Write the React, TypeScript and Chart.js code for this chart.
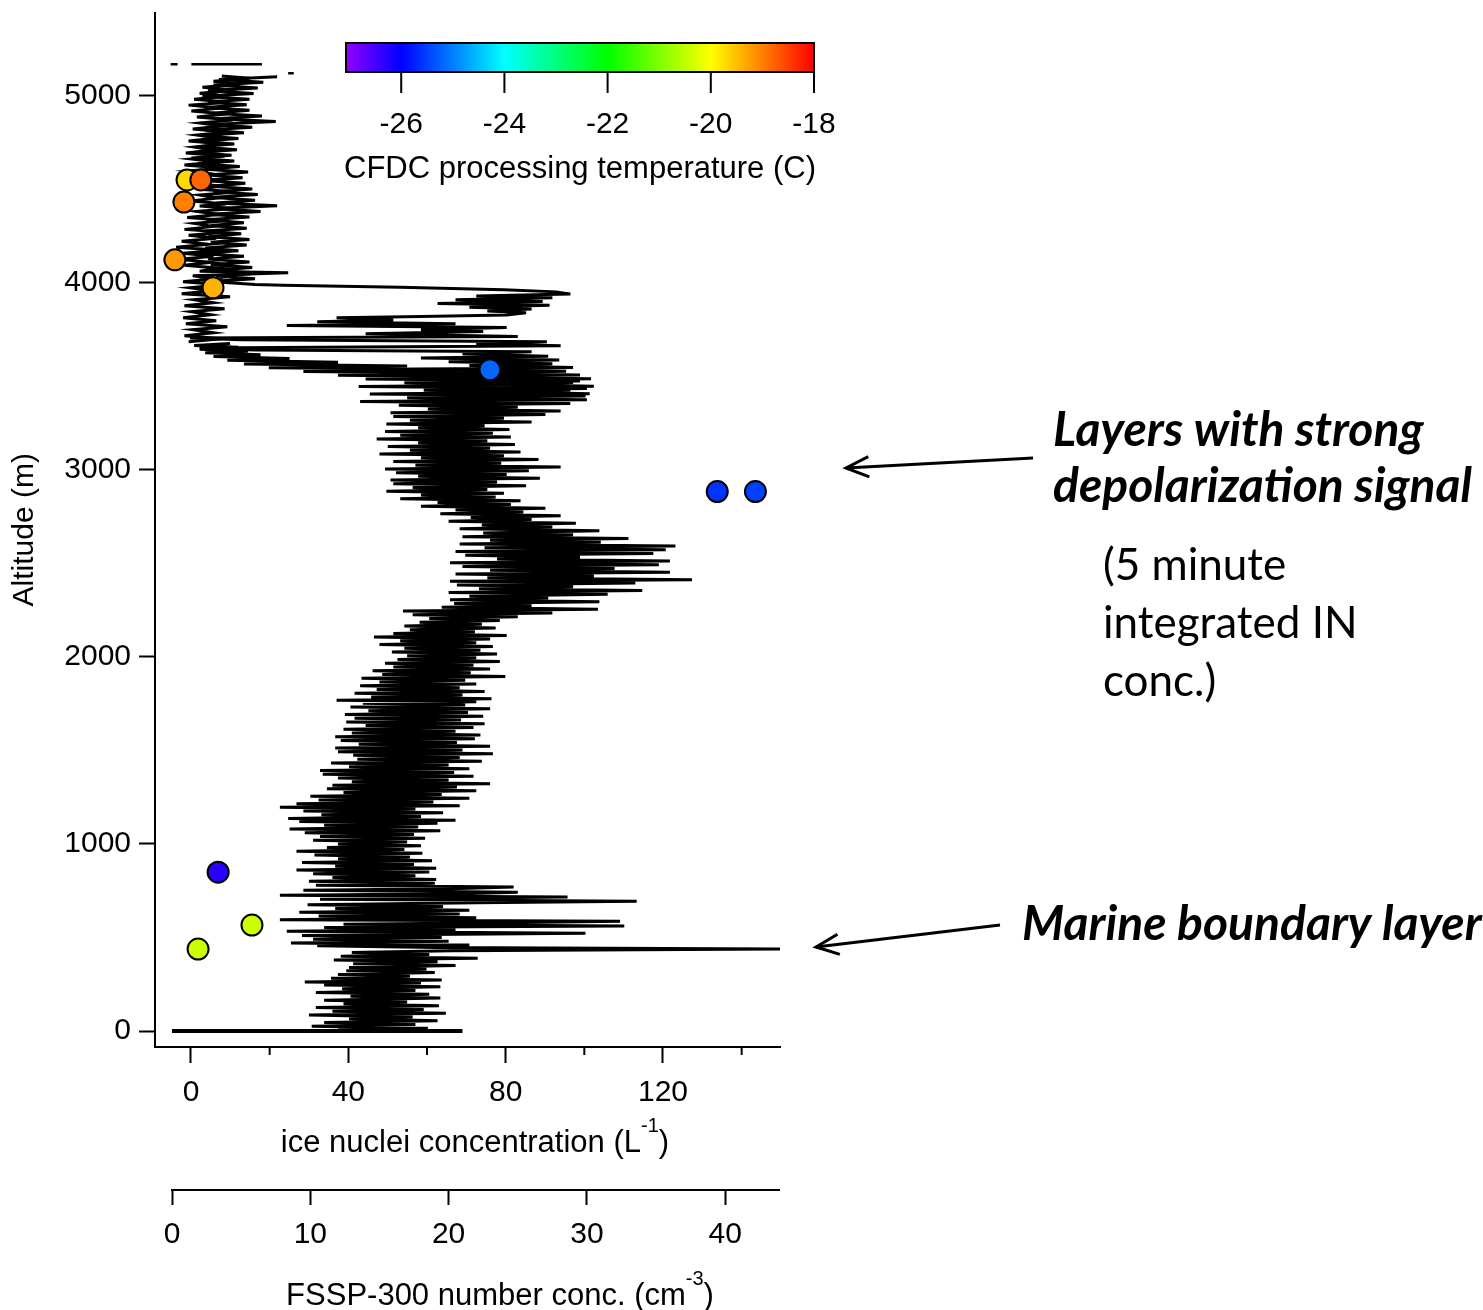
import React, { useEffect, useRef } from "react";
import { Chart, registerables } from "chart.js";

Chart.register(...registerables);

const FONT = '"Liberation Sans", Arial, Helvetica, sans-serif';
const NOTE_FONT = 'Lato, "Open Sans", sans-serif';

// ---- axis ticks ----
const altitudeTicks = [0, 1000, 2000, 3000, 4000, 5000];
const inTicks = [0, 20, 40, 60, 80, 100, 120, 140];
const inLabelledTicks = [0, 40, 80, 120];
const fsspTicks = [0, 10, 20, 30, 40];

// ---- colour scale (CFDC processing temperature, C) ----
const colorbarTicks = [-26, -24, -22, -20, -18];
const colorbarRange = [-27.07, -18];
const cmapTemps = [-27.07, -26, -24, -22, -20, -18];
const cmapColors = ["#9400ff", "#0000ff", "#00ffff", "#00ff00", "#ffff00", "#ff0000"];

// ---- ice nuclei (5 minute integrated) ----
const inConc = [-1.0, 2.5, -1.8, -4.1, 5.6, 76.0, 133.8, 143.5, 6.9, 15.5, 1.8];
const inAlt = [4548, 4548, 4430, 4121, 3972, 3534, 2883, 2883, 849, 566, 438];
const inTemp = [-19.7, -18.8, -19.0, -19.2, -19.4, -25.2, -25.6, -25.5, -26.3, -20.4, -20.4];

// ---- FSSP-300 number concentration profile ----
const groundAlt = [0, 0];
const groundConc = [0, 21.0];

const ascentAlt = [
  5, 15, 25, 35, 45, 55, 65, 75, 85, 95,
  105, 115, 125, 135, 145, 155, 165, 176, 186, 196,
  206, 216, 226, 236, 246, 256, 262, 272, 282, 292,
  302, 312, 322, 332, 340, 350, 360, 370, 379, 389,
  399, 409, 419, 429, 438, 446,
  455, 460, 470, 480, 490, 500, 510, 523, 533, 543,
  553, 561, 571, 579, 587, 595, 605, 615, 625, 635,
  645, 655, 665, 675, 685, 694, 704, 716, 726, 734,
  742, 752, 760, 769, 779, 789,
  800, 810, 820, 830, 840, 850, 860, 870, 880, 890,
  900, 910, 920, 930, 940, 950, 960, 970, 980, 990,
  1000, 1010, 1020, 1030, 1040, 1050, 1060, 1070, 1080, 1090,
  1100, 1110, 1120, 1126, 1136, 1146, 1156, 1166, 1176, 1186,
  1196, 1204, 1214, 1224, 1234, 1244, 1254, 1264, 1274, 1284,
  1294, 1304, 1313, 1322, 1332, 1342, 1352, 1362, 1372, 1382,
  1392, 1402, 1412, 1422, 1432, 1442, 1452, 1462, 1473, 1482,
  1492, 1502, 1512, 1522, 1532, 1542, 1552, 1562, 1572, 1582,
  1592, 1602, 1612, 1622, 1632, 1642, 1652, 1662, 1672, 1682,
  1692, 1702, 1712, 1722, 1732, 1742, 1752, 1760, 1767, 1775,
  1785, 1795, 1805, 1815, 1825, 1835, 1845, 1855, 1865, 1875,
  1885, 1895, 1905, 1915, 1925, 1935, 1945, 1955, 1965, 1975,
  1985, 1995, 2005, 2015, 2025, 2035, 2045, 2055, 2065, 2075,
  2085, 2095, 2105, 2114, 2124, 2134, 2144, 2154, 2164, 2174,
  2184, 2194, 2204, 2214, 2224, 2234, 2244, 2254, 2264, 2274,
  2284, 2294, 2304, 2314, 2324, 2334, 2344, 2354, 2364, 2374,
  2384, 2394, 2404, 2412, 2422, 2432, 2442, 2452, 2462, 2472,
  2482, 2492, 2502, 2512, 2522, 2532, 2542, 2552, 2562, 2572,
  2582, 2592, 2602, 2612, 2622, 2632, 2642, 2652, 2662, 2674,
  2684, 2694, 2704, 2714, 2724, 2734, 2744, 2754, 2764, 2774,
  2784, 2794, 2804, 2814, 2824, 2834, 2844, 2854, 2864, 2874,
  2884, 2894, 2904, 2914, 2924, 2934, 2944, 2954, 2964, 2974,
  2984, 2994, 3004, 3014, 3024, 3034, 3044, 3054, 3064, 3074,
  3084, 3094, 3104, 3114, 3124, 3134, 3144, 3154, 3164, 3174,
  3184, 3194, 3204, 3214, 3224, 3234, 3244, 3254, 3264, 3274,
  3284, 3294, 3304, 3314, 3324, 3334, 3344, 3354, 3364, 3374,
  3384, 3394, 3404, 3414, 3424, 3434, 3444, 3454, 3464, 3474,
  3484, 3494, 3504, 3514, 3524, 3534, 3544, 3554, 3564, 3574,
  3584, 3594, 3604, 3614, 3624, 3634, 3644, 3654, 3664, 3674,
];
const ascentConc = [
  12.0, 18.5, 10.1, 17.6, 11.0, 19.2, 12.8, 17.4, 9.9, 19.8,
  11.6, 18.2, 10.4, 19.3, 12.4, 17.0, 11.0, 19.4, 12.9, 18.6,
  10.4, 17.6, 12.3, 19.4, 11.0, 18.0, 9.6, 19.5, 11.5, 17.2,
  12.0, 19.0, 12.6, 18.4, 12.8, 20.5, 13.1, 19.2, 11.7, 22.1,
  12.2, 18.6, 13.0, 20.2, 44.2, 19.0,
  10.5, 21.5, 8.6, 20.0, 10.2, 19.5, 9.4, 29.9, 8.3, 20.5,
  11.0, 32.7, 12.4, 24.0, 32.4, 7.8, 22.0, 10.6, 20.8, 9.2,
  21.5, 11.8, 19.6, 9.8, 22.0, 33.6, 10.7, 28.6, 7.8, 21.0,
  25.0, 9.5, 20.2, 24.7, 10.4, 19.0,
  9.9, 19.1, 11.6, 17.6, 10.2, 18.6, 9.0, 19.1, 11.8, 17.5,
  9.4, 18.8, 12.0, 17.2, 10.3, 18.1, 9.0, 16.8, 11.2, 18.0,
  12.0, 17.0, 10.2, 18.3, 10.7, 17.5, 9.6, 19.4, 8.5, 17.8,
  11.0, 19.2, 9.2, 20.5, 8.4, 18.0, 10.8, 19.6, 9.5, 17.6,
  7.8, 20.8, 9.0, 18.9, 10.6, 21.5, 10.0, 19.5, 12.4, 22.0,
  11.2, 20.6, 11.6, 23.0, 13.0, 20.0, 12.0, 21.8, 10.9, 20.4,
  10.7, 21.5, 12.8, 20.0, 11.5, 22.4, 13.4, 20.8, 13.1, 23.2,
  12.0, 21.0, 11.8, 23.0, 13.5, 20.6, 12.2, 21.9, 11.8, 22.3,
  13.0, 20.5, 12.4, 21.8, 14.0, 22.6, 12.6, 20.9, 13.2, 22.5,
  12.5, 21.4, 14.2, 23.0, 12.9, 21.2, 13.8, 22.0, 11.9, 23.1,
  14.4, 21.0, 13.2, 22.6, 14.8, 20.8, 13.6, 22.0, 15.0, 21.2,
  13.7, 24.1, 15.2, 21.6, 14.5, 23.0, 16.0, 21.8, 15.4, 23.7,
  16.3, 22.0, 17.0, 23.5, 15.9, 22.3, 16.8, 23.2, 15.0, 22.0,
  16.5, 23.0, 14.6, 24.2, 16.0, 21.9, 17.2, 23.4, 16.8, 22.4,
  17.9, 23.7, 18.6, 25.0, 17.4, 27.5, 16.7, 30.8, 19.5, 26.0,
  20.4, 30.9, 20.1, 27.2, 21.5, 31.5, 20.0, 34.0, 22.2, 29.0,
  20.6, 33.5, 20.1, 37.6, 22.8, 30.5, 20.5, 36.0, 23.0, 32.0,
  21.0, 35.2, 20.1, 36.0, 23.5, 29.5, 21.2, 34.8, 20.5, 35.7,
  22.6, 36.4, 20.8, 31.0, 23.0, 33.0, 21.0, 29.0, 22.5, 30.9,
  20.8, 27.5, 22.4, 29.2, 20.0, 26.0, 21.6, 28.1, 19.4, 25.4,
  20.5, 27.0, 18.0, 24.5, 19.2, 25.2, 16.5, 23.4, 18.0, 24.0,
  15.5, 22.8, 17.4, 25.6, 16.0, 23.5, 15.8, 26.6, 17.8, 24.2,
  16.2, 25.8, 15.4, 28.1, 17.6, 23.8, 16.0, 26.5, 18.0, 24.0,
  15.0, 25.2, 17.2, 23.0, 15.6, 24.8, 17.8, 22.8, 14.8, 24.5,
  16.5, 23.2, 15.4, 24.4, 17.8, 22.6, 15.5, 26.0, 17.2, 24.0,
  16.0, 27.0, 15.8, 28.1, 18.5, 25.0, 16.4, 28.8, 13.6, 30.0,
  17.0, 29.9, 14.3, 26.5, 18.2, 30.0, 13.5, 28.0, 16.8, 29.5,
  14.0, 27.0, 12.0, 25.5, 9.5, 22.0, 7.0, 17.0, 5.2, 12.0,
  4.0, 8.5, 3.0, 6.4, 2.4, 5.5, 2.0, 4.8, 1.6, 4.2,
];

const upperAlt = [
  3684, 3700, 3716, 3732, 3748, 3764, 3780, 3796, 3812, 3828,
  3844, 3860, 3876, 3892, 3908, 3924, 3940, 3956, 3972, 3988,
  4004, 4020, 4036, 4052, 4060, 4076, 4092, 4108, 4124, 4140,
  4156, 4172, 4188, 4204, 4220, 4236, 4252, 4268, 4284, 4300,
  4316, 4332, 4348, 4364, 4380, 4396, 4409, 4420, 4436, 4452,
  4468, 4484, 4500, 4516, 4532, 4548, 4564, 4580, 4596, 4612,
  4628, 4644, 4660, 4676, 4692, 4708, 4724, 4740, 4756, 4772,
  4788, 4804, 4820, 4836, 4852, 4868, 4884, 4900, 4916, 4932,
  4948, 4964, 4980, 4996, 5012, 5028, 5044, 5060, 5076, 5092,
  5104,
];
const upperConc = [
  1.2, 3.6, 0.9, 3.0, 1.5, 4.0, 1.0, 3.2, 0.8, 2.8,
  1.4, 3.8, 0.9, 3.0, 1.6, 4.2, 0.7, 2.9, 1.3, 3.6,
  0.8, 3.1, 1.5, 8.4, 2.0, 3.4, 0.9, 2.8, 0.5, 3.0,
  0.8, 3.5, 0.3, 2.6, 0.7, 3.2, 1.2, 3.8, 0.9, 3.0,
  1.6, 4.0, 1.1, 3.4, 1.8, 4.4, 2.0, 3.9, 1.4, 3.3,
  2.0, 4.6, 1.8, 3.6, 1.0, 3.4, 0.8, 2.9, 1.2, 3.6,
  0.9, 3.2, 1.4, 3.8, 1.0, 3.0, 1.6, 3.7, 1.2, 3.3,
  1.8, 4.0, 1.5, 3.6, 2.0, 4.4, 1.8, 3.9, 1.4, 3.5,
  1.2, 4.2, 1.6, 4.0, 2.0, 4.6, 2.2, 4.9, 3.0, 5.6,
  3.6,
];

const descentAlt = [
  5100, 5085, 5070, 5055, 5040, 5025, 5010, 4995, 4980, 4965,
  4950, 4935, 4920, 4905, 4890, 4875, 4860, 4845, 4830, 4815,
  4800, 4785, 4770, 4755, 4740, 4725, 4710, 4695, 4680, 4665,
  4650, 4635, 4620, 4605, 4590, 4575, 4560, 4545, 4530, 4515,
  4500, 4485, 4470, 4455, 4440, 4425, 4410, 4395, 4380, 4365,
  4350, 4335, 4320, 4305, 4290, 4275, 4260, 4245, 4230, 4215,
  4200, 4185, 4170, 4155, 4140, 4125, 4110, 4095, 4080, 4065,
  4050, 4035, 4020, 4005, 3990, 3985, 3975, 3962, 3950, 3938,
  3928, 3918, 3908, 3898, 3888, 3878, 3868, 3858, 3848, 3838,
  3826, 3818, 3812, 3800, 3790, 3780, 3770, 3760, 3748, 3738,
  3726, 3712, 3704, 3694, 3684, 3672, 3662, 3650, 3640, 3630,
  3618, 3606, 3596, 3586, 3576, 3566, 3556, 3546, 3536, 3526,
  3516, 3506, 3496, 3486, 3476, 3466, 3456, 3446, 3436, 3426,
  3416, 3406, 3396,
];
const descentConc = [
  7.6, 3.4, 6.6, 3.0, 6.2, 2.6, 5.9, 2.2, 5.6, 2.6,
  5.4, 2.4, 5.6, 2.9, 6.5, 3.2, 7.5, 2.8, 5.8, 2.4,
  5.2, 2.1, 4.8, 2.0, 4.5, 1.8, 4.7, 1.6, 4.3, 1.4,
  4.5, 1.9, 4.9, 2.4, 5.5, 2.6, 5.1, 2.2, 5.3, 2.8,
  5.8, 3.0, 6.2, 2.8, 6.0, 3.2, 7.6, 3.0, 6.4, 2.6,
  5.6, 2.5, 5.2, 2.8, 5.4, 2.4, 5.0, 2.6, 5.6, 2.8,
  5.4, 2.4, 4.8, 2.0, 5.2, 2.6, 5.6, 2.8, 5.8, 3.0,
  6.2, 3.2, 6.0, 2.8, 6.0, 8.0, 16.5, 24.0, 27.8, 28.8,
  22.0, 27.5, 20.5, 26.8, 19.2, 27.3, 21.5, 26.0, 22.8, 25.6,
  24.2, 18.0, 11.9, 16.0, 10.5, 20.5, 8.3, 24.2, 18.0, 22.5,
  14.0, 25.0, 1.3, 5.0, 27.1, 22.0, 28.1, 2.0, 6.0, 26.0,
  21.0, 27.2, 18.0, 28.0, 20.0, 27.5, 21.5, 29.0, 17.0, 28.5,
  21.0, 29.5, 19.0, 30.3, 20.5, 29.0, 23.0, 30.5, 21.5, 28.8,
  24.0, 30.2, 22.0,
];

const topStripAlt = [5167, 5167];
const topStripConc = [1.4, 6.5];
const topDashAlt = [5167, 5167];
const topDashConc = [-0.1, 0.4];
const topDotAlt = [5119, 5119];
const topDotConc = [8.4, 8.8];

// ---- helpers ----
function hexToRgb(hex: string) {
  const n = parseInt(hex.slice(1), 16);
  return [(n >> 16) & 255, (n >> 8) & 255, n & 255];
}
function tempToColor(t: number) {
  if (t <= cmapTemps[0]) return cmapColors[0];
  for (let i = 0; i < cmapTemps.length - 1; i++) {
    const a = cmapTemps[i];
    const b = cmapTemps[i + 1];
    if (t <= b) {
      const f = (t - a) / (b - a);
      const c1 = hexToRgb(cmapColors[i]);
      const c2 = hexToRgb(cmapColors[i + 1]);
      const c = c1.map((v, k) => Math.round(v + (c2[k] - v) * f));
      return `rgb(${c[0]},${c[1]},${c[2]})`;
    }
  }
  return cmapColors[cmapColors.length - 1];
}
function pts(conc: number[], alt: number[]) {
  return conc.map((x, i) => ({ x, y: alt[i] }));
}
function traceDs(conc: number[], alt: number[], width: number) {
  return {
    type: "scatter" as const,
    data: pts(conc, alt),
    xAxisID: "x2",
    yAxisID: "y",
    showLine: true,
    borderColor: "#000",
    borderWidth: width,
    borderJoinStyle: "miter",
    pointRadius: 0,
    pointHoverRadius: 0,
    spanGaps: false,
    order: 1,
  };
}

function drawLine(ctx: CanvasRenderingContext2D, x1: number, y1: number, x2: number, y2: number) {
  ctx.beginPath();
  ctx.moveTo(x1, y1);
  ctx.lineTo(x2, y2);
  ctx.stroke();
}
function drawArrow(ctx: CanvasRenderingContext2D, x1: number, y1: number, x2: number, y2: number) {
  drawLine(ctx, x1, y1, x2, y2);
  const ang = Math.atan2(y1 - y2, x1 - x2);
  const L = 25;
  const a = 0.42;
  ctx.beginPath();
  ctx.moveTo(x2 + L * Math.cos(ang + a), y2 + L * Math.sin(ang + a));
  ctx.lineTo(x2, y2);
  ctx.lineTo(x2 + L * Math.cos(ang - a), y2 + L * Math.sin(ang - a));
  ctx.stroke();
}
function drawSupText(
  ctx: CanvasRenderingContext2D,
  main: string,
  sup: string,
  tail: string,
  cx: number,
  cy: number
) {
  const mainFont = `31px ${FONT}`;
  const supFont = `20px ${FONT}`;
  ctx.font = mainFont;
  const w1 = ctx.measureText(main).width;
  const w3 = ctx.measureText(tail).width;
  ctx.font = supFont;
  const w2 = ctx.measureText(sup).width;
  let x = cx - (w1 + w2 + w3) / 2;
  ctx.textAlign = "left";
  ctx.textBaseline = "middle";
  ctx.font = mainFont;
  ctx.fillText(main, x, cy);
  x += w1;
  ctx.font = supFont;
  ctx.fillText(sup, x, cy - 17);
  x += w2;
  ctx.font = mainFont;
  ctx.fillText(tail, x, cy);
}

const decorPlugin = {
  id: "decor",
  afterDraw(chart: any) {
    const ctx: CanvasRenderingContext2D = chart.ctx;
    const xs = chart.scales.x;
    const x2 = chart.scales.x2;
    const area = chart.chartArea;
    ctx.save();
    ctx.strokeStyle = "#000";
    ctx.fillStyle = "#000";
    ctx.lineWidth = 2;

    // minor ticks of ice nuclei axis
    inTicks.forEach((v) => {
      if (!inLabelledTicks.includes(v)) {
        const px = xs.getPixelForValue(v);
        drawLine(ctx, px, area.bottom, px, area.bottom + 8);
      }
    });
    // FSSP axis line (starts at 0)
    const f0 = x2.getPixelForValue(fsspTicks[0]);
    drawLine(ctx, f0 - 1, x2.top + 1, area.right, x2.top + 1);

    // axis titles with superscripts
    drawSupText(ctx, "ice nuclei concentration (L", "-1", ")", 475, 1143);
    drawSupText(ctx, "FSSP-300 number conc. (cm", "-3", ")", 500, 1296);

    // colour bar
    const cbL = 346, cbR = 814, cbT = 43, cbB = 72;
    const grad = ctx.createLinearGradient(cbL, 0, cbR, 0);
    const span = colorbarRange[1] - colorbarRange[0];
    cmapTemps.forEach((t, i) => {
      grad.addColorStop(Math.min(1, Math.max(0, (t - colorbarRange[0]) / span)), cmapColors[i]);
    });
    ctx.fillStyle = grad;
    ctx.fillRect(cbL, cbT, cbR - cbL, cbB - cbT);
    ctx.lineWidth = 2;
    ctx.strokeRect(cbL, cbT, cbR - cbL, cbB - cbT);
    ctx.fillStyle = "#000";
    ctx.font = `30px ${FONT}`;
    ctx.textAlign = "center";
    ctx.textBaseline = "middle";
    colorbarTicks.forEach((t) => {
      const px = cbL + ((t - colorbarRange[0]) / span) * (cbR - cbL);
      drawLine(ctx, px, cbB, px, cbB + 21);
      ctx.fillText(String(t), px, 125);
    });
    ctx.font = `31px ${FONT}`;
    ctx.fillText("CFDC processing temperature (C)", 580, 169);

    // annotations
    ctx.lineWidth = 3;
    drawArrow(ctx, 1033, 458, 846, 468);
    drawArrow(ctx, 1000, 925, 816, 947);
    ctx.textAlign = "left";
    ctx.textBaseline = "alphabetic";
    ctx.font = `italic bold 48px ${NOTE_FONT}`;
    ctx.fillText("Layers with strong", 1053, 446);
    ctx.fillText("depolarization signal", 1053, 502);
    ctx.fillText("Marine boundary layer", 1022, 940);
    ctx.font = `44px ${NOTE_FONT}`;
    ctx.fillText("(5 minute", 1103, 580);
    ctx.fillText("integrated IN", 1103, 638);
    ctx.fillText("conc.)", 1103, 696);
    ctx.restore();
  },
};

export default function App() {
  const ref = useRef<HTMLCanvasElement>(null);
  useEffect(() => {
    document.body.style.margin = "0";
    if (!ref.current) return;
    Chart.defaults.font.family = FONT;
    Chart.defaults.color = "#000";
    const chart = new Chart(ref.current, {
      type: "scatter",
      data: {
        datasets: [
          {
            type: "scatter",
            data: pts(inConc, inAlt),
            xAxisID: "x",
            yAxisID: "y",
            showLine: false,
            pointRadius: 10.5,
            pointHoverRadius: 10.5,
            pointBackgroundColor: inTemp.map(tempToColor),
            pointBorderColor: "#000",
            pointBorderWidth: 2,
            order: -1,
          },
          traceDs(groundConc, groundAlt, 4),
          traceDs(ascentConc, ascentAlt, 3),
          traceDs(upperConc, upperAlt, 3),
          traceDs(descentConc, descentAlt, 3),
          traceDs(topStripConc, topStripAlt, 2.5),
          traceDs(topDashConc, topDashAlt, 2.5),
          traceDs(topDotConc, topDotAlt, 2.5),
        ] as any,
      },
      options: {
        animation: false,
        responsive: false,
        events: [],
        layout: { padding: { left: 0, top: 4, right: 703, bottom: 0 } },
        plugins: { legend: { display: false }, tooltip: { enabled: false } },
        scales: {
          x: {
            type: "linear",
            position: "bottom",
            weight: 0,
            min: -9.15,
            max: 149.75,
            afterBuildTicks: (s: any) => {
              s.ticks = inTicks.map((v) => ({ value: v }));
            },
            afterFit: (s: any) => {
              s.height = 142;
              s.paddingLeft = 0;
              s.paddingRight = 0;
            },
            border: { display: true, color: "#000", width: 2 },
            grid: {
              display: true,
              drawOnChartArea: false,
              drawTicks: true,
              tickLength: 16,
              tickWidth: 2,
              tickColor: (c: any) =>
                c.tick && inLabelledTicks.includes(c.tick.value) ? "#000" : "rgba(0,0,0,0)",
            },
            ticks: {
              padding: 12,
              autoSkip: false,
              maxRotation: 0,
              color: "#000",
              font: { family: FONT, size: 30 },
              callback: (v: any) => (inLabelledTicks.includes(Number(v)) ? String(v) : ""),
            },
          },
          x2: {
            type: "linear",
            axis: "x",
            position: "bottom",
            weight: 1,
            min: -1.23,
            max: 43.96,
            afterBuildTicks: (s: any) => {
              s.ticks = fsspTicks.map((v) => ({ value: v }));
            },
            afterFit: (s: any) => {
              s.height = 121;
              s.paddingLeft = 0;
              s.paddingRight = 0;
            },
            border: { display: false },
            grid: {
              display: true,
              drawOnChartArea: false,
              drawTicks: true,
              tickLength: 16,
              tickWidth: 2,
              tickColor: "#000",
            },
            ticks: {
              padding: 12,
              autoSkip: false,
              maxRotation: 0,
              color: "#000",
              font: { family: FONT, size: 30 },
              callback: (v: any) => String(v),
            },
          },
          y: {
            type: "linear",
            position: "left",
            min: -85.5,
            max: 5443,
            afterBuildTicks: (s: any) => {
              s.ticks = altitudeTicks.map((v) => ({ value: v }));
            },
            afterFit: (s: any) => {
              s.width = 155;
              s.paddingTop = 0;
              s.paddingBottom = 0;
            },
            border: { display: true, color: "#000", width: 2 },
            grid: {
              display: true,
              drawOnChartArea: false,
              drawTicks: true,
              tickLength: 16,
              tickWidth: 2,
              tickColor: "#000",
            },
            ticks: {
              padding: 8,
              autoSkip: false,
              color: "#000",
              font: { family: FONT, size: 30 },
              callback: (v: any) => String(v),
            },
            title: {
              display: true,
              text: "Altitude (m)",
              color: "#000",
              font: { family: FONT, size: 30 },
              padding: { top: 7, bottom: 0 },
            },
          },
        },
      } as any,
      plugins: [decorPlugin],
    });
    return () => chart.destroy();
  }, []);
  return (
    <div style={{ width: 1483, height: 1310, overflow: "hidden", background: "#fff" }}>
      <canvas ref={ref} width={1483} height={1310} style={{ display: "block", width: 1483, height: 1310 }} />
    </div>
  );
}
